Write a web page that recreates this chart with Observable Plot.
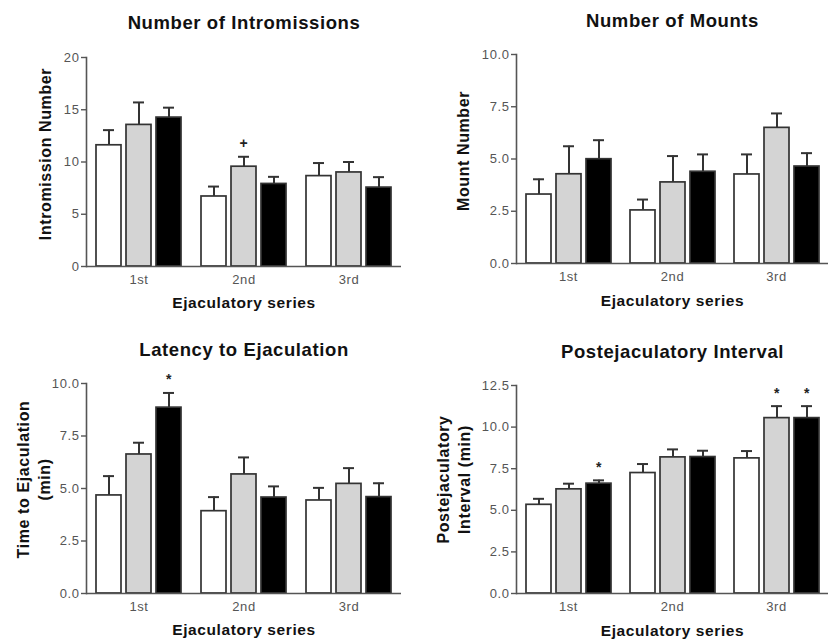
<!DOCTYPE html>
<html><head><meta charset="utf-8">
<script src="https://cdn.jsdelivr.net/npm/d3@7"></script>
<script src="https://cdn.jsdelivr.net/npm/@observablehq/plot@0.6"></script>
<style>
body{margin:0;background:#fff;}
#wrap{position:relative;width:833px;height:641px;overflow:hidden;background:#fff;}
.panel{position:absolute;}
</style></head><body><div id="wrap"></div>
<script>
// ---- data ----
const series = ["1st", "2nd", "3rd"];
const groups = ["Group 1", "Group 2", "Group 3"];
const groupFills = ["#ffffff", "#d4d4d4", "#000000"];
const xTitle = "Ejaculatory series";

const intromTitle = "Number of Intromissions";
const intromYLabel = "Intromission Number";
const intromMean = [11.6, 13.55, 14.25, 6.7, 9.55, 7.9, 8.65, 9.0, 7.55];
const intromSem  = [1.45, 2.15, 0.95, 0.95, 0.95, 0.68, 1.25, 1.0, 1.0];
const intromSig  = ["", "", "", "", "+", "", "", "", ""];
const intromTicks = [0, 5, 10, 15, 20];

const mountTitle = "Number of Mounts";
const mountYLabel = "Mount Number";
const mountMean = [3.3, 4.27, 4.99, 2.54, 3.88, 4.39, 4.26, 6.49, 4.64];
const mountSem  = [0.73, 1.34, 0.91, 0.52, 1.26, 0.83, 0.96, 0.69, 0.64];
const mountSig  = ["", "", "", "", "", "", "", "", ""];
const mountTicks = [0, 2.5, 5, 7.5, 10];

const latTitle = "Latency to Ejaculation";
const latYLabel = "Time to Ejaculation\n(min)";
const latMean = [4.67, 6.62, 8.85, 3.92, 5.67, 4.57, 4.43, 5.22, 4.59];
const latSem  = [0.92, 0.56, 0.7, 0.67, 0.81, 0.53, 0.6, 0.75, 0.66];
const latSig  = ["", "", "*", "", "", "", "", "", ""];
const latTicks = [0, 2.5, 5, 7.5, 10];

const peiTitle = "Postejaculatory Interval";
const peiYLabel = "Postejaculatory\nInterval (min)";
const peiMean = [5.33, 6.26, 6.6, 7.24, 8.18, 8.2, 8.12, 10.54, 10.54];
const peiSem  = [0.36, 0.34, 0.2, 0.54, 0.48, 0.38, 0.44, 0.72, 0.72];
const peiSig  = ["", "", "*", "", "", "", "", "*", "*"];
const peiTicks = [0, 2.5, 5, 7.5, 10, 12.5];

// ---- layout ----
const panels = [
  {title: intromTitle, ylabel: intromYLabel, mean: intromMean, sem: intromSem, sig: intromSig, ticks: intromTicks, fmt: d3.format("d"),
   left: 0, top: 0, width: 416, height: 320, mt: 57, mb: 54, ml: 86, mr: 15, ydx: -42, ydy: -8, tdy: -34, xdy: 37},
  {title: mountTitle, ylabel: mountYLabel, mean: mountMean, sem: mountSem, sig: mountSig, ticks: mountTicks, fmt: d3.format(".1f"),
   left: 413, top: 0, width: 420, height: 320, mt: 54, mb: 57, ml: 102, mr: 4, ydx: -54, ydy: -8, tdy: -33, xdy: 38},
  {title: latTitle, ylabel: latYLabel, mean: latMean, sem: latSem, sig: latSig, ticks: latTicks, fmt: d3.format(".1f"),
   left: 0, top: 320, width: 416, height: 321, mt: 63, mb: 48, ml: 86, mr: 15, ydx: -54, ydy: -9, tdy: -33, xdy: 37},
  {title: peiTitle, ylabel: peiYLabel, mean: peiMean, sem: peiSem, sig: peiSig, ticks: peiTicks, fmt: d3.format(".1f"),
   left: 413, top: 320, width: 420, height: 321, mt: 65, mb: 48, ml: 102, mr: 4, ydx: -64, ydy: -10, tdy: -33, xdy: 38}
];

const FONT = "'Liberation Sans', Arial, Helvetica, sans-serif";
const wrap = document.getElementById("wrap");

for (const p of panels) {
  const rows = [];
  series.forEach((s, i) => groups.forEach((g, j) => {
    const k = i * groups.length + j;
    rows.push({series: s, group: g, mean: p.mean[k], sem: p.sem[k], sig: p.sig[k]});
  }));
  const yMax = p.ticks[p.ticks.length - 1];
  const chart = Plot.plot({
    width: p.width, height: p.height,
    marginTop: p.mt, marginBottom: p.mb, marginLeft: p.ml, marginRight: p.mr,
    style: {fontFamily: FONT, fontSize: "13px", letterSpacing: "0.6px", background: "transparent", overflow: "visible"},
    fx: {domain: series, padding: 0, label: null},
    x: {domain: groups, axis: null, paddingInner: 0.167, paddingOuter: 0.29},
    y: {domain: [0, yMax], label: null},
    color: {domain: groups, range: groupFills},
    marks: [
      Plot.ruleX(rows, {fx: "series", x: "group", y1: "mean", y2: d => d.mean + d.sem, stroke: "#333", strokeWidth: 2}),
      Plot.barY(rows, {fx: "series", x: "group", y: "mean", fill: "group", stroke: "#333", strokeWidth: 1.7}),
      Plot.tickY(rows, {fx: "series", x: "group", y: d => d.mean + d.sem, insetLeft: 7, insetRight: 7, stroke: "#333", strokeWidth: 2}),
      Plot.text(rows.filter(d => d.sig), {fx: "series", x: "group", y: d => d.mean + d.sem, text: "sig", dy: -13, fontSize: 14, fontWeight: "bold", fill: "#222"}),
      Plot.ruleY([0], {stroke: "#555", strokeWidth: 1.6}),
      Plot.frame({anchor: "left", facetAnchor: "left", stroke: "#555", strokeWidth: 1.6}),
      Plot.axisY({ticks: p.ticks, tickFormat: p.fmt, tickSize: 5, tickPadding: 2, label: null, color: "#555", strokeWidth: 1.4, fontSize: 13}),
      Plot.axisFx({anchor: "bottom", tickSize: 0, tickPadding: 8, label: null, color: "#555", fontSize: 13}),
      Plot.text([p.title], {fx: () => series[1], frameAnchor: "top", lineAnchor: "middle", dy: p.tdy, fontSize: 18.5, fontWeight: "bold", fill: "#111"}),
      Plot.text([xTitle], {fx: () => series[1], frameAnchor: "bottom", lineAnchor: "middle", dy: p.xdy, fontSize: 15.5, fontWeight: "bold", fill: "#111"}),
      Plot.text([p.ylabel], {fx: () => series[0], frameAnchor: "left", textAnchor: "middle", lineAnchor: "middle", rotate: -90, dx: p.ydx, dy: p.ydy, fontSize: 16, fontWeight: "bold", fill: "#111", lineHeight: 1.35})
    ]
  });
  const div = document.createElement("div");
  div.className = "panel";
  div.style.left = p.left + "px";
  div.style.top = p.top + "px";
  div.appendChild(chart);
  wrap.appendChild(div);
}
</script></body></html>
